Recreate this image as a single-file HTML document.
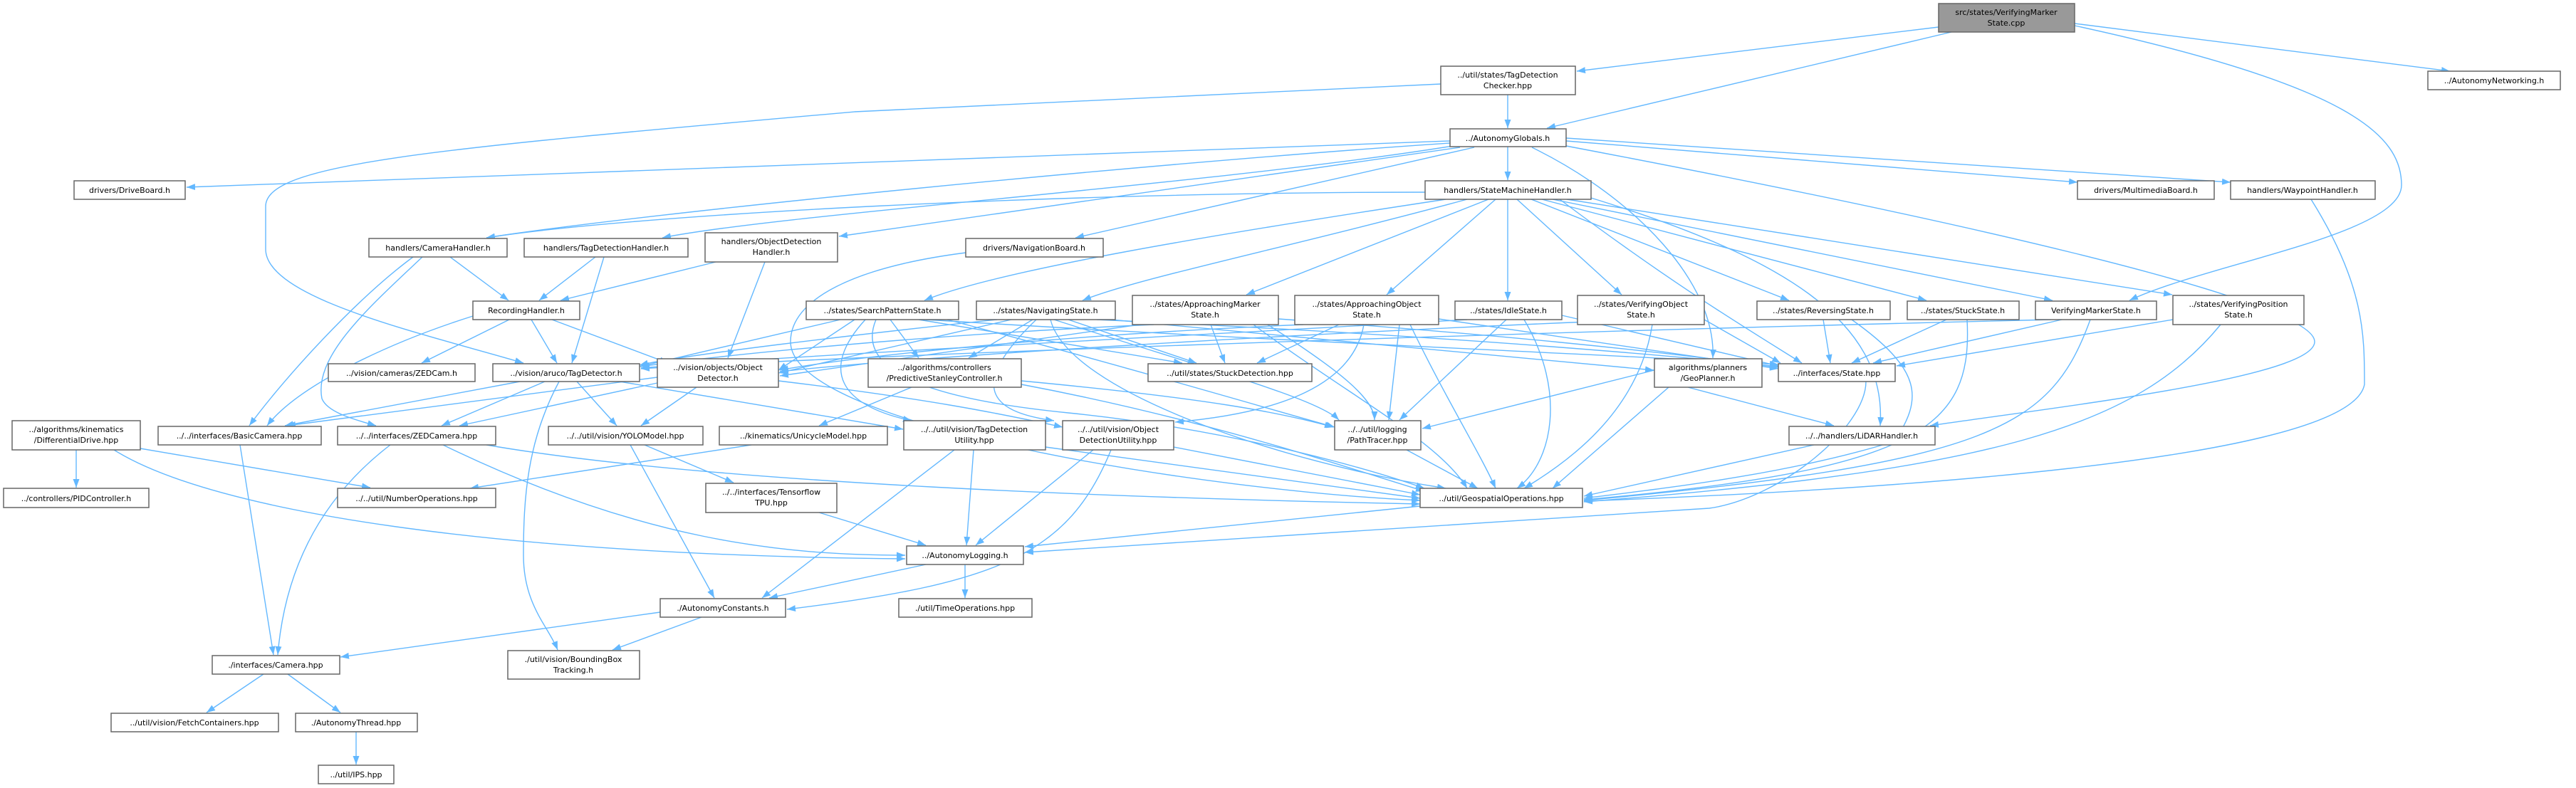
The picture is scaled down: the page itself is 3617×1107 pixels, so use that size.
<!DOCTYPE html>
<html><head><meta charset="utf-8"><style>
html,body{margin:0;padding:0;background:#fff;}
svg{display:block;}
text{font-family:"DejaVu Sans","Liberation Sans",sans-serif;font-size:11px;fill:#000;text-anchor:middle;}
.n{fill:#fff;stroke:#666;stroke-width:1.5;}
.r{fill:#999;stroke:#666;stroke-width:1.5;}
.e{fill:none;stroke:#63b8ff;stroke-width:1.4;marker-end:url(#a);}
</style></head><body>
<svg width="3617" height="1107" viewBox="0 0 3617 1107" xmlns="http://www.w3.org/2000/svg">
<defs><marker id="a" markerUnits="userSpaceOnUse" markerWidth="13" markerHeight="9" refX="12" refY="4.5" orient="auto"><path d="M0,0 L12,4.5 L0,9 z" fill="#63b8ff"/></marker></defs>
<g>
<path class="e" d="M2722,38 L2214,100"/>
<path class="e" d="M2740,45 L2172,180"/>
<path class="e" d="M2913,33 L3440,100"/>
<path class="e" d="M2913,36 C3300,120 3372,190 3372,260 C3372,330 3100,370 2990,422"/>
<path class="e" d="M2117,133 L2117,180"/>
<path class="e" d="M2023,118 L1200,157 C600,210 373,230 373,290 L373,350 C373,420 600,470 735,510"/>
<path class="e" d="M2036,198 L262,263"/>
<path class="e" d="M2036,201 C1600,230 900,300 683,334"/>
<path class="e" d="M2001,270 C1500,270 900,300 683,334"/>
<path class="e" d="M2040,205 C1700,260 1100,300 930,334"/>
<path class="e" d="M2050,207 L1178,332"/>
<path class="e" d="M2070,207 L1510,334"/>
<path class="e" d="M2117,206 L2117,253"/>
<path class="e" d="M2199,198 L2917,256"/>
<path class="e" d="M2199,194 L3132,256"/>
<path class="e" d="M2151,207 C2300,280 2410,400 2405,503"/>
<path class="e" d="M2199,205 C2700,300 3250,420 3250,480 C3250,530 2900,570 2710,598"/>
<path class="e" d="M3245,280 C3320,400 3320,470 3320,540 C3300,650 2600,690 2224,704"/>
<path class="e" d="M1356,355 C1200,375 1110,420 1110,480 C1110,600 1700,690 1994,703"/>
<path class="e" d="M2030,280 C1700,330 1400,380 1298,422"/>
<path class="e" d="M2060,280 C1800,350 1600,390 1520,422"/>
<path class="e" d="M2090,280 L1750,414"/>
<path class="e" d="M2100,280 L1947,414"/>
<path class="e" d="M2117,280 L2117,422"/>
<path class="e" d="M2130,280 L2277,414"/>
<path class="e" d="M2150,280 L2512,422"/>
<path class="e" d="M2165,280 L2705,422"/>
<path class="e" d="M2180,280 L2882,422"/>
<path class="e" d="M2200,280 L3050,414"/>
<path class="e" d="M2190,280 C2350,400 2450,460 2530,510"/>
<path class="e" d="M2234,278 C2500,360 2650,450 2640,598"/>
<path class="e" d="M1180,449 L898,515"/>
<path class="e" d="M1200,449 L1093,520"/>
<path class="e" d="M1250,449 L1290,503"/>
<path class="e" d="M1290,449 L1660,510"/>
<path class="e" d="M1300,449 C1800,480 2300,500 2497,512"/>
<path class="e" d="M1330,449 C1600,520 1800,580 1874,600"/>
<path class="e" d="M1230,449 C1200,520 1300,560 1500,580 C1700,600 1900,650 2000,686"/>
<path class="e" d="M1215,449 C1150,520 1180,570 1280,591"/>
<path class="e" d="M1400,449 C1200,470 950,500 898,513"/>
<path class="e" d="M1420,449 L1093,524"/>
<path class="e" d="M1450,449 L1360,503"/>
<path class="e" d="M1500,449 L1680,510"/>
<path class="e" d="M1540,449 C2000,470 2300,495 2497,515"/>
<path class="e" d="M1480,449 C1700,520 1850,560 1880,590"/>
<path class="e" d="M1475,449 C1500,550 1800,650 2030,686"/>
<path class="e" d="M1560,449 L2322,520"/>
<path class="e" d="M1455,449 C1350,550 1400,580 1480,591"/>
<path class="e" d="M1620,456 C1300,470 1000,500 900,515"/>
<path class="e" d="M1700,456 L1720,510"/>
<path class="e" d="M1795,448 C2100,470 2300,490 2497,516"/>
<path class="e" d="M1780,456 C1880,520 1930,560 1930,590"/>
<path class="e" d="M1760,456 C1900,560 2020,620 2060,686"/>
<path class="e" d="M1600,456 L1095,528"/>
<path class="e" d="M1830,456 C1500,470 1200,500 1095,520"/>
<path class="e" d="M1880,456 L1765,510"/>
<path class="e" d="M1915,456 C1900,540 1800,580 1650,593"/>
<path class="e" d="M2020,448 L2497,518"/>
<path class="e" d="M1965,456 L1950,590"/>
<path class="e" d="M1980,456 C2030,560 2080,640 2100,686"/>
<path class="e" d="M2060,449 C1700,470 1100,500 900,517"/>
<path class="e" d="M2193,443 L2497,514"/>
<path class="e" d="M2115,449 L1965,590"/>
<path class="e" d="M2140,449 C2200,550 2180,650 2130,686"/>
<path class="e" d="M2230,452 C1800,470 1300,500 1095,522"/>
<path class="e" d="M2393,449 L2500,510"/>
<path class="e" d="M2320,456 C2300,580 2200,650 2140,686"/>
<path class="e" d="M2560,449 L2570,510"/>
<path class="e" d="M2600,449 C2700,520 2700,560 2660,620 C2500,670 2300,690 2224,700"/>
<path class="e" d="M2733,449 L2600,510"/>
<path class="e" d="M2762,449 C2770,600 2700,660 2224,702"/>
<path class="e" d="M2895,449 L2630,510"/>
<path class="e" d="M2880,449 C2000,470 1200,500 900,518"/>
<path class="e" d="M2935,449 C2880,600 2800,650 2224,703"/>
<path class="e" d="M3051,449 L2663,514"/>
<path class="e" d="M3118,456 C3000,600 2800,660 2224,705"/>
<path class="e" d="M2620,536 C2620,600 2500,700 2400,714 L1439,776"/>
<path class="e" d="M2323,520 L1997,602"/>
<path class="e" d="M2343,544 L2180,686"/>
<path class="e" d="M2370,544 L2575,598"/>
<path class="e" d="M2547,625 L2224,697"/>
<path class="e" d="M1975,632 L2075,686"/>
<path class="e" d="M1280,544 L1150,598"/>
<path class="e" d="M1434,535 C1700,560 1800,580 1872,600"/>
<path class="e" d="M1434,540 C1700,590 1900,660 2000,690"/>
<path class="e" d="M1367,632 L1357,766"/>
<path class="e" d="M1340,632 L1070,840"/>
<path class="e" d="M1468,628 L1994,700"/>
<path class="e" d="M1535,632 L1370,766"/>
<path class="e" d="M1560,632 C1500,780 1400,820 1105,856"/>
<path class="e" d="M1648,628 L1994,695"/>
<path class="e" d="M1994,711 L1439,768"/>
<path class="e" d="M1300,793 L1080,840"/>
<path class="e" d="M1355,793 L1355,840"/>
<path class="e" d="M548,625 C450,700 400,800 390,920"/>
<path class="e" d="M683,625 C1000,680 1600,700 1994,708"/>
<path class="e" d="M622,625 C900,760 1100,780 1271,780"/>
<path class="e" d="M337,625 L384,920"/>
<path class="e" d="M107,632 L107,685"/>
<path class="e" d="M197,630 L520,685"/>
<path class="e" d="M160,632 C300,720 700,780 1271,785"/>
<path class="e" d="M1055,625 L660,686"/>
<path class="e" d="M730,536 L400,598"/>
<path class="e" d="M765,536 L620,598"/>
<path class="e" d="M810,536 L866,598"/>
<path class="e" d="M785,536 C740,620 735,700 735,780 C735,850 770,880 783,913"/>
<path class="e" d="M870,536 L1268,603"/>
<path class="e" d="M923,530 L403,598"/>
<path class="e" d="M923,538 L645,598"/>
<path class="e" d="M978,544 L900,598"/>
<path class="e" d="M1093,535 C1300,560 1400,580 1492,600"/>
<path class="e" d="M905,625 L1030,678"/>
<path class="e" d="M885,625 L1003,840"/>
<path class="e" d="M1150,720 L1300,766"/>
<path class="e" d="M927,860 L478,923"/>
<path class="e" d="M985,867 L860,913"/>
<path class="e" d="M370,947 L290,1001"/>
<path class="e" d="M404,947 L478,1001"/>
<path class="e" d="M500,1028 L500,1074"/>
<path class="e" d="M632,361 L714,422"/>
<path class="e" d="M580,361 C500,420 400,530 350,598"/>
<path class="e" d="M593,361 C520,430 440,500 452,560 C460,580 500,590 528,598"/>
<path class="e" d="M836,361 L757,422"/>
<path class="e" d="M848,361 L803,510"/>
<path class="e" d="M1005,368 L787,422"/>
<path class="e" d="M1074,368 L1022,503"/>
<path class="e" d="M715,449 L592,510"/>
<path class="e" d="M746,449 L782,510"/>
<path class="e" d="M775,449 L938,510"/>
<path class="e" d="M664,444 C550,480 420,540 375,598"/>
</g>
<g>
<rect class="r" x="2722" y="5" width="191" height="40"/><text x="2817" y="21">src/states/VerifyingMarker</text><text x="2817" y="36">State.cpp</text>
<rect class="n" x="2023" y="93" width="189" height="40"/><text x="2117" y="109">../util/states/TagDetection</text><text x="2117" y="124">Checker.hpp</text>
<rect class="n" x="3409" y="100" width="186" height="26"/><text x="3502" y="117">../AutonomyNetworking.h</text>
<rect class="n" x="2036" y="181" width="163" height="25"/><text x="2117" y="198">../AutonomyGlobals.h</text>
<rect class="n" x="104" y="254" width="156" height="26"/><text x="182" y="271">drivers/DriveBoard.h</text>
<rect class="n" x="2001" y="254" width="233" height="26"/><text x="2117" y="271">handlers/StateMachineHandler.h</text>
<rect class="n" x="2917" y="254" width="192" height="26"/><text x="3013" y="271">drivers/MultimediaBoard.h</text>
<rect class="n" x="3132" y="254" width="203" height="26"/><text x="3233" y="271">handlers/WaypointHandler.h</text>
<rect class="n" x="518" y="335" width="194" height="26"/><text x="615" y="352">handlers/CameraHandler.h</text>
<rect class="n" x="736" y="335" width="230" height="26"/><text x="851" y="352">handlers/TagDetectionHandler.h</text>
<rect class="n" x="990" y="327" width="186" height="41"/><text x="1083" y="343">handlers/ObjectDetection</text><text x="1083" y="358">Handler.h</text>
<rect class="n" x="1356" y="335" width="193" height="26"/><text x="1452" y="352">drivers/NavigationBoard.h</text>
<rect class="n" x="664" y="423" width="150" height="26"/><text x="739" y="440">RecordingHandler.h</text>
<rect class="n" x="1132" y="423" width="214" height="26"/><text x="1239" y="440">../states/SearchPatternState.h</text>
<rect class="n" x="1371" y="423" width="195" height="26"/><text x="1468" y="440">../states/NavigatingState.h</text>
<rect class="n" x="1590" y="415" width="205" height="41"/><text x="1692" y="431">../states/ApproachingMarker</text><text x="1692" y="446">State.h</text>
<rect class="n" x="1818" y="415" width="202" height="41"/><text x="1919" y="431">../states/ApproachingObject</text><text x="1919" y="446">State.h</text>
<rect class="n" x="2043" y="423" width="150" height="26"/><text x="2118" y="440">../states/IdleState.h</text>
<rect class="n" x="2215" y="415" width="178" height="41"/><text x="2304" y="431">../states/VerifyingObject</text><text x="2304" y="446">State.h</text>
<rect class="n" x="2467" y="423" width="187" height="26"/><text x="2560" y="440">../states/ReversingState.h</text>
<rect class="n" x="2678" y="423" width="157" height="26"/><text x="2756" y="440">../states/StuckState.h</text>
<rect class="n" x="2858" y="423" width="170" height="26"/><text x="2943" y="440">VerifyingMarkerState.h</text>
<rect class="n" x="3051" y="415" width="184" height="41"/><text x="3143" y="431">../states/VerifyingPosition</text><text x="3143" y="446">State.h</text>
<rect class="n" x="461" y="511" width="206" height="25"/><text x="564" y="528">../vision/cameras/ZEDCam.h</text>
<rect class="n" x="692" y="511" width="206" height="25"/><text x="795" y="528">../vision/aruco/TagDetector.h</text>
<rect class="n" x="923" y="504" width="170" height="40"/><text x="1008" y="520">../vision/objects/Object</text><text x="1008" y="535">Detector.h</text>
<rect class="n" x="1219" y="504" width="215" height="40"/><text x="1326" y="520">../algorithms/controllers</text><text x="1326" y="535">/PredictiveStanleyController.h</text>
<rect class="n" x="1612" y="511" width="230" height="25"/><text x="1727" y="528">../util/states/StuckDetection.hpp</text>
<rect class="n" x="2323" y="504" width="151" height="40"/><text x="2398" y="520">algorithms/planners</text><text x="2398" y="535">/GeoPlanner.h</text>
<rect class="n" x="2497" y="511" width="164" height="25"/><text x="2579" y="528">../interfaces/State.hpp</text>
<rect class="n" x="17" y="591" width="180" height="41"/><text x="107" y="607">../algorithms/kinematics</text><text x="107" y="622">/DifferentialDrive.hpp</text>
<rect class="n" x="222" y="599" width="229" height="26"/><text x="336" y="616">../../interfaces/BasicCamera.hpp</text>
<rect class="n" x="474" y="599" width="222" height="26"/><text x="585" y="616">../../interfaces/ZEDCamera.hpp</text>
<rect class="n" x="770" y="599" width="217" height="26"/><text x="878" y="616">../../util/vision/YOLOModel.hpp</text>
<rect class="n" x="1010" y="599" width="236" height="26"/><text x="1128" y="616">../kinematics/UnicycleModel.hpp</text>
<rect class="n" x="1269" y="591" width="199" height="41"/><text x="1368" y="607">../../util/vision/TagDetection</text><text x="1368" y="622">Utility.hpp</text>
<rect class="n" x="1492" y="591" width="156" height="41"/><text x="1570" y="607">../../util/vision/Object</text><text x="1570" y="622">DetectionUtility.hpp</text>
<rect class="n" x="1874" y="591" width="121" height="41"/><text x="1934" y="607">../../util/logging</text><text x="1934" y="622">/PathTracer.hpp</text>
<rect class="n" x="2512" y="599" width="205" height="26"/><text x="2614" y="616">../../handlers/LiDARHandler.h</text>
<rect class="n" x="5" y="686" width="204" height="27"/><text x="107" y="704">../controllers/PIDController.h</text>
<rect class="n" x="474" y="686" width="222" height="27"/><text x="585" y="704">../../util/NumberOperations.hpp</text>
<rect class="n" x="991" y="679" width="184" height="41"/><text x="1083" y="695">../../interfaces/Tensorflow</text><text x="1083" y="710">TPU.hpp</text>
<rect class="n" x="1994" y="686" width="228" height="27"/><text x="2108" y="704">../util/GeospatialOperations.hpp</text>
<rect class="n" x="1273" y="767" width="164" height="26"/><text x="1355" y="784">../AutonomyLogging.h</text>
<rect class="n" x="927" y="841" width="176" height="26"/><text x="1015" y="858">./AutonomyConstants.h</text>
<rect class="n" x="1262" y="841" width="187" height="26"/><text x="1355" y="858">./util/TimeOperations.hpp</text>
<rect class="n" x="298" y="921" width="179" height="26"/><text x="387" y="938">./interfaces/Camera.hpp</text>
<rect class="n" x="713" y="914" width="185" height="40"/><text x="805" y="930">./util/vision/BoundingBox</text><text x="805" y="945">Tracking.h</text>
<rect class="n" x="156" y="1002" width="235" height="26"/><text x="273" y="1019">../util/vision/FetchContainers.hpp</text>
<rect class="n" x="415" y="1002" width="171" height="26"/><text x="500" y="1019">./AutonomyThread.hpp</text>
<rect class="n" x="447" y="1075" width="106" height="26"/><text x="500" y="1092">../util/IPS.hpp</text>
</g>
</svg>
</body></html>
